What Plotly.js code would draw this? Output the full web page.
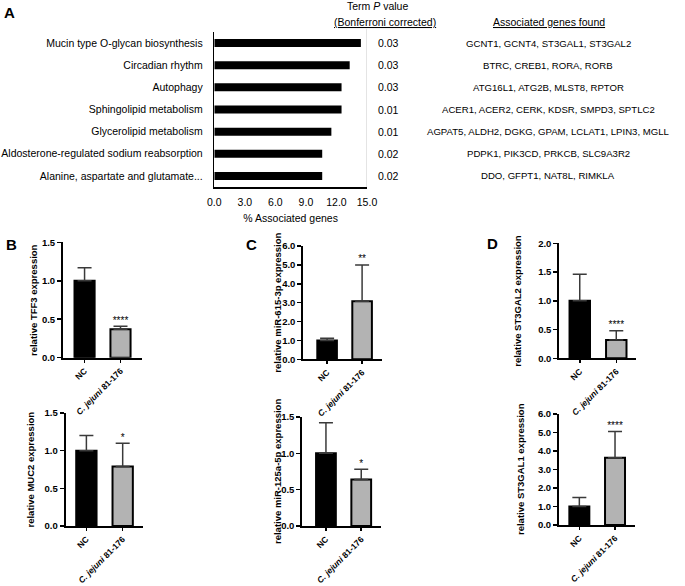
<!DOCTYPE html>
<html><head><meta charset="utf-8">
<script src="https://cdn.plot.ly/plotly-3.0.1.min.js"></script>
<style>html,body{margin:0;padding:0;background:#fff}#chart{width:685px;height:586px}</style>
</head><body><div id="chart"></div>
<script>
// ---------- Panel A data ----------
const pathways = [
  'Mucin type O-glycan biosynthesis',
  'Circadian rhythm',
  'Autophagy',
  'Sphingolipid metabolism',
  'Glycerolipid metabolism',
  'Aldosterone-regulated sodium reabsorption',
  'Alanine, aspartate and glutamate...'
];
const pctGenes = [14.4, 13.3, 12.5, 12.5, 11.5, 10.6, 10.6];
const pValues = ['0.03', '0.03', '0.03', '0.01', '0.01', '0.02', '0.02'];
const geneLists = [
  'GCNT1, GCNT4, ST3GAL1, ST3GAL2',
  'BTRC, CREB1, RORA, RORB',
  'ATG16L1, ATG2B, MLST8, RPTOR',
  'ACER1, ACER2, CERK, KDSR, SMPD3, SPTLC2',
  'AGPAT5, ALDH2, DGKG, GPAM, LCLAT1, LPIN3, MGLL',
  'PDPK1, PIK3CD, PRKCB, SLC9A3R2',
  'DDO, GFPT1, NAT8L, RIMKLA'
];
const pctTicks = [0, 3, 6, 9, 12, 15];

// ---------- Panels B-D data ----------
const groups = ['NC', 'C. jejuni 81-176'];
const groupLabels = ['NC', '<i>C. jejuni</i> 81-176'];

const tff3Mean = [1.00, 0.37];   const tff3Err = [0.17, 0.04];   const tff3Sig = ['', '****'];
const muc2Mean = [1.00, 0.79];   const muc2Err = [0.20, 0.31];   const muc2Sig = ['', '*'];
const mir615Mean = [1.00, 3.08]; const mir615Err = [0.12, 1.92]; const mir615Sig = ['', '**'];
const mir125Mean = [1.00, 0.64]; const mir125Err = [0.42, 0.14]; const mir125Sig = ['', '*'];
const st3gal2Mean = [1.00, 0.32]; const st3gal2Err = [0.46, 0.16]; const st3gal2Sig = ['', '****'];
const st3gal1Mean = [1.00, 3.63]; const st3gal1Err = [0.49, 1.42]; const st3gal1Sig = ['', '****'];

// ---------- layout helpers ----------
const W = 685, H = 586;
const px = x => x / W;
const py = y => 1 - y / H;
const hdom = (a, b) => [px(a), px(b)];
const vdom = (top, bottom) => [py(bottom), py(top)];

const NARROW = '"Liberation Sans Narrow", "Arial Narrow", "Liberation Sans", Arial, sans-serif';
const ARIAL = '"Liberation Sans", Arial, Helvetica, sans-serif';

const traces = [];
const layout = {
  width: W, height: H,
  margin: {l: 0, r: 0, t: 0, b: 0},
  paper_bgcolor: '#fff', plot_bgcolor: 'rgba(0,0,0,0)',
  showlegend: false,
  colorway: ['#000'],
  font: {family: ARIAL, color: '#000'},
  annotations: [], shapes: []
};

// Panel A
traces.push({
  type: 'bar', orientation: 'h', y: pathways, x: pctGenes,
  xaxis: 'x', yaxis: 'y', width: 0.36,
  marker: {color: '#000'}, hoverinfo: 'skip'
});
layout.xaxis = {
  domain: hdom(214.3, 367), anchor: 'y', range: [0, 15],
  tickmode: 'array', tickvals: pctTicks, tickformat: '.1f',
  showline: true, linecolor: '#000', linewidth: 1.5, ticks: '',
  showgrid: false, zeroline: false, fixedrange: true,
  tickfont: {family: NARROW, size: 10.5, color: '#000'}, ticklabelstandoff: 5,
  title: {text: '% Associated genes', font: {family: NARROW, size: 10.5, color: '#000'}, standoff: 7}
};
layout.yaxis = {
  domain: vdom(32, 187), anchor: 'x', type: 'category',
  categoryorder: 'array', categoryarray: pathways, range: [6.5, -0.5],
  showline: true, linecolor: '#000', linewidth: 1.5, ticks: '',
  showgrid: false, zeroline: false, fixedrange: true,
  tickfont: {family: NARROW, size: 10.5, color: '#000'}, ticklabelstandoff: 8
};
layout.shapes.push({type: 'line', xref: 'x', yref: 'y domain', x0: 15, x1: 15, y0: 0, y1: 1.02,
  line: {color: '#c8c8c8', width: 1}});

pathways.forEach((p, i) => {
  layout.annotations.push({xref: 'paper', yref: 'y', x: px(376), y: p, xanchor: 'left', yanchor: 'middle',
    text: pValues[i], showarrow: false, font: {family: NARROW, size: 10.5}});
  layout.annotations.push({xref: 'paper', yref: 'y', x: px(548), y: p, xanchor: 'center', yanchor: 'middle',
    text: geneLists[i], showarrow: false, font: {family: NARROW, size: 9.6}});
});
layout.annotations.push(
  {xref: 'paper', yref: 'paper', x: px(377), y: py(6), xanchor: 'center', yanchor: 'middle',
   text: 'Term <i>P</i> value', showarrow: false, font: {family: NARROW, size: 10.5}},
  {xref: 'paper', yref: 'paper', x: px(385), y: py(22), xanchor: 'center', yanchor: 'middle',
   text: '<u>(Bonferroni corrected)</u>', showarrow: false, font: {family: NARROW, size: 10.5}},
  {xref: 'paper', yref: 'paper', x: px(549), y: py(22), xanchor: 'center', yanchor: 'middle',
   text: '<u>Associated genes found</u>', showarrow: false, font: {family: NARROW, size: 10.5}}
);

// Panel letters
[['A', 9, 13], ['B', 11.5, 244], ['C', 251, 244.5], ['D', 492.5, 243.5]].forEach(([t, x, y]) => {
  layout.annotations.push({xref: 'paper', yref: 'paper', x: px(x), y: py(y), xanchor: 'center', yanchor: 'middle',
    text: '<b>' + t + '</b>', showarrow: false, font: {family: ARIAL, size: 15, color: '#000'}});
});

// Bar panels B-D
const panels = [
  {mean: tff3Mean, err: tff3Err, sig: tff3Sig, title: 'relative TFF3 expression',
   x: [63, 141.7], y: [242.3, 357.7], range: [0, 1.5], dtick: 0.5, xr: [-0.6, 1.59], tx: 33},
  {mean: muc2Mean, err: muc2Err, sig: muc2Sig, title: 'relative MUC2 expression',
   x: [65.7, 143], y: [413, 526], range: [0, 1.5], dtick: 0.5, xr: [-0.57, 1.56], tx: 30},
  {mean: mir615Mean, err: mir615Err, sig: mir615Sig, title: 'relative miR-615-3p expression',
   x: [303.3, 381.7], y: [246, 359.3], range: [0, 6], dtick: 1, xr: [-0.68, 1.56], tx: 278},
  {mean: mir125Mean, err: mir125Err, sig: mir125Sig, title: 'relative miR-125a-5p expression',
   x: [302.3, 381], y: [417, 526], range: [0, 1.5], dtick: 0.5, xr: [-0.67, 1.56], tx: 277.5},
  {mean: st3gal2Mean, err: st3gal2Err, sig: st3gal2Sig, title: 'relative ST3GAL2 expression',
   x: [559.3, 636], y: [243.3, 358.3], range: [0, 2], dtick: 0.5, xr: [-0.56, 1.54], tx: 518},
  {mean: st3gal1Mean, err: st3gal1Err, sig: st3gal1Sig, title: 'relative ST3GAL1 expression',
   x: [559, 635], y: [414, 525], range: [0, 6], dtick: 1, xr: [-0.57, 1.56], tx: 520.5}
];

panels.forEach((p, k) => {
  const n = k + 2;
  const xa = 'x' + n, ya = 'y' + n;
  traces.push({
    type: 'bar', x: groups, y: p.mean, xaxis: xa, yaxis: ya, width: 0.56,
    marker: {color: ['#000000', '#b3b3b3'], line: {color: '#000', width: 2}},
    error_y: {type: 'data', symmetric: false, array: p.err, arrayminus: [0, 0],
      color: '#3a3a3a', thickness: 1.5, width: 7},
    hoverinfo: 'skip'
  });
  traces.push({
    type: 'scatter', mode: 'text', x: groups, y: p.mean.map((m, i) => m + p.err[i]),
    text: p.sig, textposition: 'top center', cliponaxis: false,
    marker: {color: '#000'},
    textfont: {family: ARIAL, size: 10, color: '#000000'},
    xaxis: xa, yaxis: ya, hoverinfo: 'skip'
  });
  layout['xaxis' + n] = {
    domain: hdom(p.x[0], p.x[1]), anchor: ya, type: 'category', range: p.xr,
    tickmode: 'array', tickvals: groups, ticktext: groupLabels, tickangle: -45,
    showline: true, linecolor: '#000', linewidth: 2,
    ticks: 'outside', ticklen: 3, tickwidth: 1.5, tickcolor: '#000',
    showgrid: false, zeroline: false, fixedrange: true,
    tickfont: {family: ARIAL, size: 8.5, weight: 'bold', color: '#000'}
  };
  layout['yaxis' + n] = {
    domain: vdom(p.y[0], p.y[1]), anchor: xa, range: p.range,
    tickmode: 'linear', tick0: 0, dtick: p.dtick, tickformat: '.1f',
    showline: true, linecolor: '#000', linewidth: 2,
    ticks: 'outside', ticklen: 4, tickwidth: 1.5, tickcolor: '#000',
    showgrid: false, zeroline: false, fixedrange: true,
    tickfont: {family: ARIAL, size: 9.5, weight: 'bold', color: '#000'}
  };
  // y-axis title, centred on the axis span
  layout.annotations.push({
    xref: 'paper', yref: 'paper', x: px(p.tx), y: (py(p.y[0]) + py(p.y[1])) / 2,
    xanchor: 'center', yanchor: 'middle', textangle: -90, showarrow: false,
    text: '<b>' + p.title + '</b>', font: {family: ARIAL, size: 9.5, color: '#000'}
  });
});

Plotly.newPlot('chart', traces, layout, {displayModeBar: false, staticPlot: true});
</script>
</body></html>
